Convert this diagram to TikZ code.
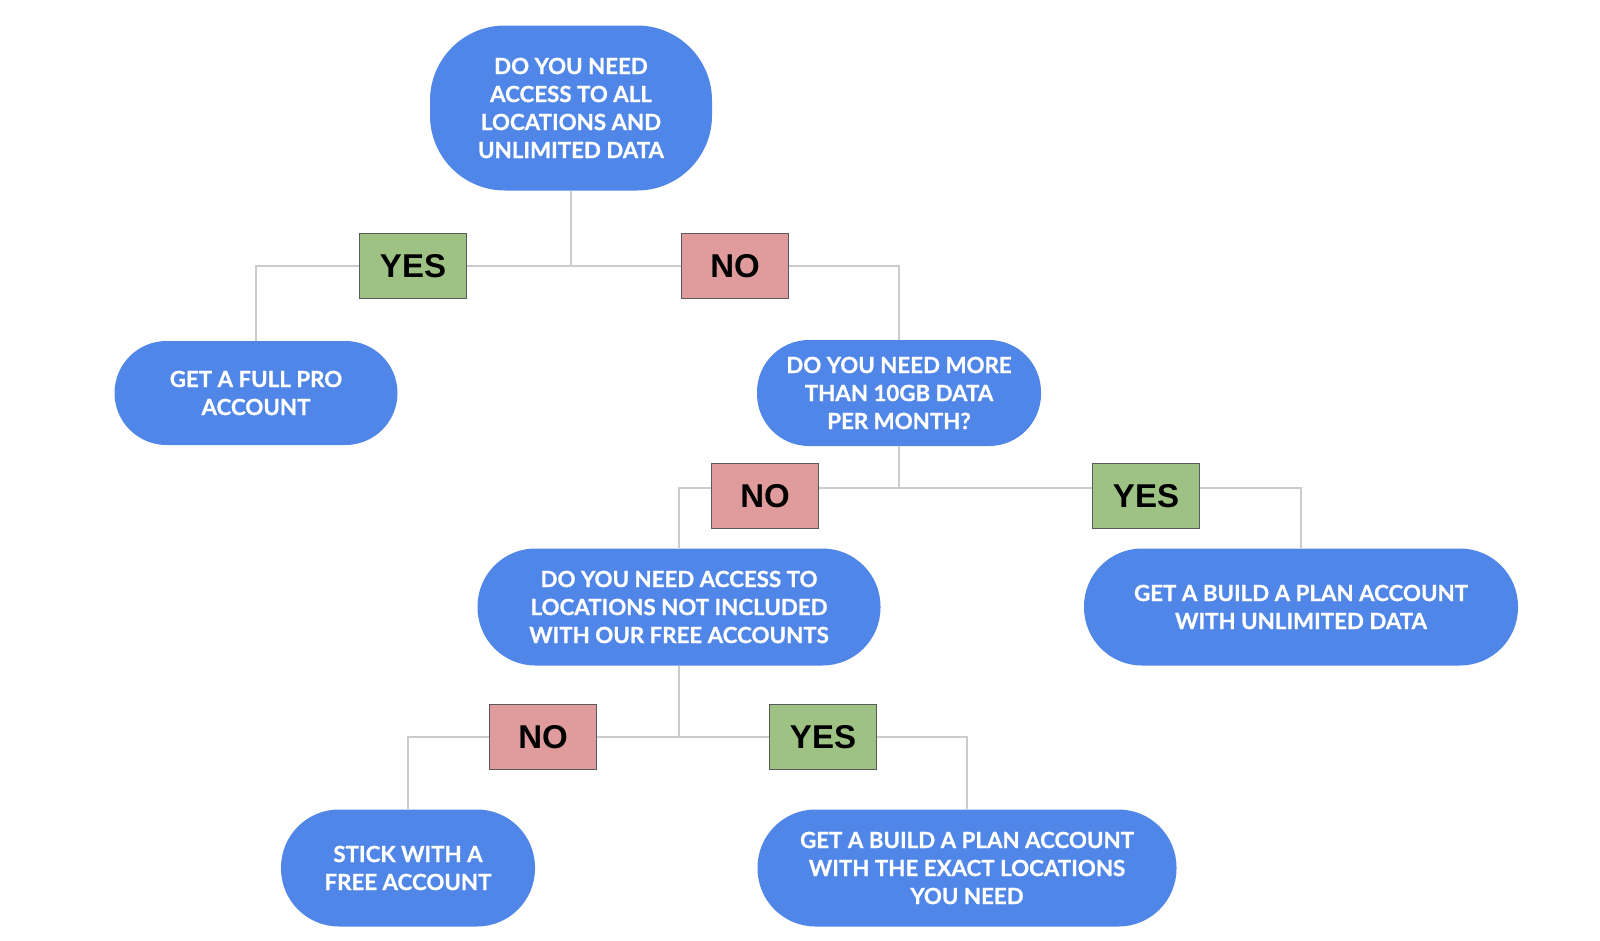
\documentclass[tikz,border=0pt]{standalone}
\usepackage{fontspec}
\setmainfont{Lato}[BoldFeatures={FakeBold=0.8}]
\newfontfamily\boxfont{Liberation Sans}
\usepackage{tikz}
\usetikzlibrary{positioning,calc}

\definecolor{nodeblue}{HTML}{4F86E8}
\definecolor{yesgreen}{HTML}{9DC284}
\definecolor{nored}{HTML}{E09C9C}
\definecolor{linegray}{HTML}{CCCCCC}
\definecolor{boxedge}{HTML}{5A5A5A}

\begin{document}
\begin{tikzpicture}[
    x=1pt, y=-1pt,
    question/.style={fill=nodeblue, text=white, rounded corners=52pt, inner sep=0pt,
        align=center, font=\fontsize{22.3}{28}\selectfont\bfseries},
    answer/.style={draw=boxedge, line width=1.3pt, minimum width=107pt, minimum height=65pt,
        inner sep=0pt, font=\boxfont\fontsize{33}{33}\selectfont\bfseries},
    yesbox/.style={answer, fill=yesgreen},
    nobox/.style={answer, fill=nored},
    link/.style={draw=linegray, line width=2pt}
]
\useasboundingbox (0,0) rectangle (1600,940);

% questions and outcomes
\node[question, minimum width=282pt, minimum height=165pt, rounded corners=75pt] (allAccess) at (571,108)
    {DO YOU NEED\\ACCESS TO ALL\\LOCATIONS AND\\UNLIMITED DATA};
\node[question, minimum width=283pt, minimum height=104pt] (fullPro) at (256,393)
    {GET A FULL PRO\\ACCOUNT};
\node[question, minimum width=284pt, minimum height=106pt] (moreData) at (899,393)
    {DO YOU NEED MORE\\THAN 10GB DATA\\PER MONTH?};
\node[question, minimum width=403pt, minimum height=117pt, rounded corners=58pt] (otherLoc) at (679,607)
    {DO YOU NEED ACCESS TO\\LOCATIONS NOT INCLUDED\\WITH OUR FREE ACCOUNTS};
\node[question, minimum width=434pt, minimum height=117pt, rounded corners=58pt] (planUnlim) at (1301,607)
    {GET A BUILD A PLAN ACCOUNT\\WITH UNLIMITED DATA};
\node[question, minimum width=254pt, minimum height=117pt, rounded corners=58pt] (freeAcc) at (408,868)
    {STICK WITH A\\FREE ACCOUNT};
\node[question, minimum width=419pt, minimum height=117pt, rounded corners=58pt] (planExact) at (967,868)
    {GET A BUILD A PLAN ACCOUNT\\WITH THE EXACT LOCATIONS\\YOU NEED};

% junctions
\coordinate (j1) at (571,266);
\coordinate (j2) at (899,488);
\coordinate (j3) at (679,737);

% answer boxes
\node[yesbox] (yes1) at (413,266) {YES};
\node[nobox] (no1) at (735,266) {NO};
\node[nobox] (no2) at (765,496) {NO};
\node[yesbox] (yes2) at (1146,496) {YES};
\node[nobox] (no3) at (543,737) {NO};
\node[yesbox] (yes3) at (823,737) {YES};

% connectors
\draw[link] (allAccess.south) -- (j1);
\draw[link] (j1) -- (yes1.east);
\draw[link] (yes1.west) -| (fullPro.north);
\draw[link] (j1) -- (no1.west);
\draw[link] (no1.east) -| (moreData.north);

\draw[link] (moreData.south) -- (j2);
\draw[link] (j2) -- (no2.east |- j2);
\draw[link] (no2.west |- j2) -| (otherLoc.north);
\draw[link] (j2) -- (yes2.west |- j2);
\draw[link] (yes2.east |- j2) -| (planUnlim.north);

\draw[link] (otherLoc.south) -- (j3);
\draw[link] (j3) -- (no3.east);
\draw[link] (no3.west) -| (freeAcc.north);
\draw[link] (j3) -- (yes3.west);
\draw[link] (yes3.east) -| (planExact.north);
\end{tikzpicture}
\end{document}
